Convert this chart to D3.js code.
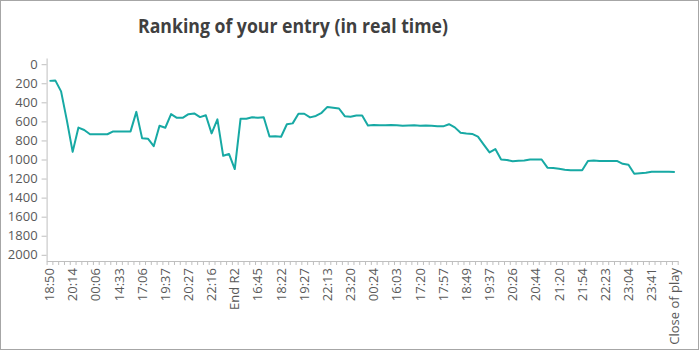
<!DOCTYPE html>
<html>
<head>
<meta charset="utf-8">
<script src="https://cdn.jsdelivr.net/npm/d3@7"></script>
<style>
  html, body { margin: 0; padding: 0; background: #ffffff; }
  svg { display: block; }
  .axis text { font-family: "Open Sans", "Noto Sans", sans-serif; fill: #595959; }
</style>
</head>
<body>
<svg id="chart" width="699" height="350"></svg>
<script>
// Ranking snapshots, one per update (lower number = better rank)
const ranks = [
  175, 170, 285, 590, 920, 665, 690, 735, 735, 735,
  735, 705, 705, 705, 705, 500, 778, 782, 860, 646,
  667, 524, 563, 563, 524, 517, 555, 535, 726, 579,
  961, 942, 1100, 572, 572, 557, 562, 557, 758, 755,
  761, 630, 621, 520, 520, 558, 543, 510, 448, 456,
  465, 545, 551, 538, 538, 643, 637, 640, 640, 639,
  640, 646, 643, 641, 645, 642, 646, 650, 652, 630,
  663, 720, 727, 732, 760, 843, 925, 890, 1000, 1005,
  1018, 1012, 1011, 1000, 1000, 1000, 1086, 1090, 1096, 1107,
  1113, 1113, 1113, 1016, 1010, 1015, 1015, 1015, 1015, 1045,
  1055, 1150, 1145, 1140, 1128, 1128, 1128, 1128, 1130
];

// Time labels shown on every 4th update
const tickLabels = [
  "18:50", "20:14", "00:06", "14:33", "17:06", "19:37", "20:27", "22:16",
  "End R2", "16:45", "18:22", "19:27", "22:13", "23:20", "00:24", "16:03",
  "17:20", "17:57", "18:49", "19:37", "20:26", "20:44", "21:20", "21:54",
  "22:23", "23:04", "23:41", "Close of play"
];
const labelEvery = 4;

const yTicks = [0, 200, 400, 600, 800, 1000, 1200, 1400, 1600, 1800, 2000];

const svg = d3.select("#chart");

// outer frame
svg.append("rect")
  .attr("x", 0.5).attr("y", 0.5)
  .attr("width", 698).attr("height", 349)
  .attr("fill", "#ffffff")
  .attr("stroke", "#a6a6a6");

const plot = { left: 46.6, right: 677.7, top: 58, bottom: 261 };

const idx = d3.range(ranks.length);
const x = d3.scaleBand().domain(idx).range([plot.left, plot.right]).padding(0);
const xEdge = d3.scaleLinear().domain([0, ranks.length]).range([plot.left, plot.right]);
const y = d3.scaleLinear().domain([-65, 2065]).range([plot.top, plot.bottom]);

// title
svg.append("text")
  .attr("x", 293).attr("y", 33)
  .attr("text-anchor", "middle")
  .attr("textLength", 310)
  .attr("lengthAdjust", "spacingAndGlyphs")
  .style("font-family", "\"Open Sans\", sans-serif")
  .style("font-weight", 700)
  .style("font-size", "19px")
  .style("fill", "#404040")
  .text("Ranking of your entry (in real time)");

// y axis (reversed: rank 0 at top)
const yAxis = svg.append("g")
  .attr("class", "axis")
  .attr("transform", `translate(${plot.left},0)`)
  .call(d3.axisLeft(y).tickValues(yTicks).tickFormat(d3.format("d"))
    .tickSize(5).tickSizeOuter(0).tickPadding(4));
yAxis.selectAll("text").style("font-size", "13px");
yAxis.select(".domain").attr("stroke", "#bfbfbf");
yAxis.selectAll(".tick line").attr("stroke", "#bfbfbf");

// x axis: a tick mark between every update
const xTickAxis = svg.append("g")
  .attr("class", "axis")
  .attr("transform", `translate(0,${plot.bottom})`)
  .call(d3.axisBottom(xEdge).tickValues(d3.range(ranks.length + 1)).tickSize(4).tickSizeOuter(0).tickFormat(""));
xTickAxis.select(".domain").attr("stroke", "#bfbfbf");
xTickAxis.selectAll(".tick line").attr("stroke", "#bfbfbf");

// x axis labels, rotated
const xLabelAxis = svg.append("g")
  .attr("class", "axis")
  .attr("transform", `translate(0,${plot.bottom})`)
  .call(d3.axisBottom(x)
    .tickValues(idx.filter(i => i % labelEvery === 0))
    .tickSize(0)
    .tickFormat(i => tickLabels[i / labelEvery]));
xLabelAxis.select(".domain").remove();
xLabelAxis.selectAll("text")
  .style("font-size", "13px")
  .attr("transform", "rotate(-90)")
  .attr("x", -7)
  .attr("y", 0)
  .attr("dy", "0.35em")
  .style("text-anchor", "end");

// ranking line
const line = d3.line()
  .x((d, i) => x(i) + x.bandwidth() / 2)
  .y(d => y(d));

svg.append("path")
  .datum(ranks)
  .attr("fill", "none")
  .attr("stroke", "#17a9a4")
  .attr("stroke-width", 2)
  .attr("stroke-linejoin", "round")
  .attr("d", line);
</script>
</body>
</html>
